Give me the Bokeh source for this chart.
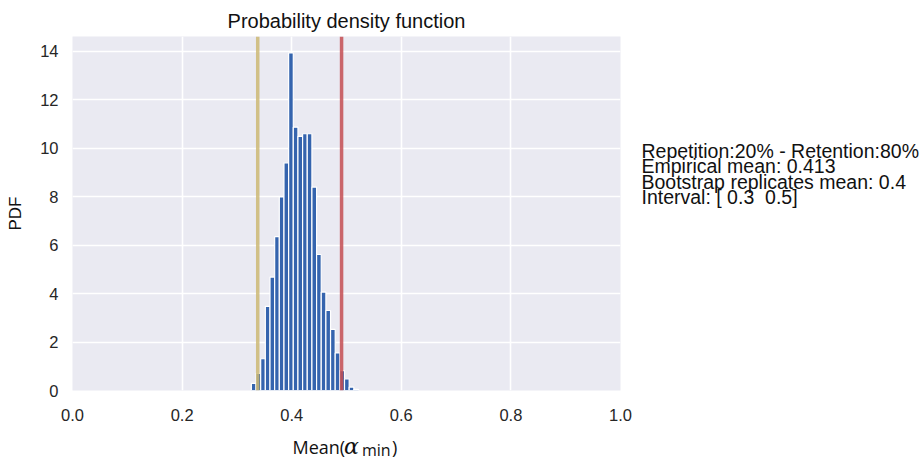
from bokeh.plotting import figure
from bokeh.layouts import row, column
from bokeh.models import Span, Label, FixedTicker
from bokeh.embed import file_html
from bokeh.resources import INLINE

# Histogram of bootstrap replicates (density-normalised)
bin_start = 0.3264
bin_width = 0.0085
density = [0.29, 0.71, 1.31, 3.47, 4.68, 6.35, 7.98, 9.39, 13.92, 10.86,
           10.48, 10.59, 10.59, 8.39, 5.61, 4.06, 3.30, 2.52, 1.55, 0.82,
           0.48, 0.14, 0.05]

# Confidence interval bounds
ci_low = 0.338
ci_high = 0.491

x_ticks = [0.0, 0.2, 0.4, 0.6, 0.8, 1.0]
y_ticks = [0, 2, 4, 6, 8, 10, 12, 14]

info_lines = [
    "Repetition:20% - Retention:80%",
    "Empirical mean: 0.413",
    "Bootstrap replicates mean: 0.4",
    "Interval: [\u00a00.3\u00a0\u00a00.5]",
]

FONT = "Liberation Sans"
TEXT = "#262626"
DARK = "#111111"

left_edges = [bin_start + i * bin_width for i in range(len(density))]
right_edges = [e + bin_width for e in left_edges]

# ---- main histogram panel ----
p = figure(width=640, height=425, x_range=(0, 1), y_range=(0, 14.6),
           output_backend="svg", toolbar_location=None,
           min_border_left=72, min_border_right=20,
           min_border_top=36, min_border_bottom=35)

p.title.text = "Probability density function"
p.title.align = "center"
p.title.text_font = FONT
p.title.text_font_size = "20px"
p.title.text_font_style = "normal"
p.title.text_color = DARK

p.background_fill_color = "#EAEAF2"
p.border_fill_color = "white"
p.outline_line_color = None

p.grid.grid_line_color = "white"
p.grid.grid_line_width = 1.6
p.xaxis.ticker = FixedTicker(ticks=x_ticks)
p.yaxis.ticker = FixedTicker(ticks=y_ticks)
p.xaxis.major_label_overrides = {t: f"{t:.1f}" for t in x_ticks}

for ax in (p.xaxis, p.yaxis):
    ax.axis_line_color = None
    ax.major_tick_line_color = None
    ax.minor_tick_line_color = None
    ax.major_tick_out = 0
    ax.major_tick_in = 0
    ax.minor_tick_out = 0
    ax.major_label_text_font = FONT
    ax.major_label_text_font_size = "16.5px"
    ax.major_label_text_color = TEXT

p.yaxis.major_label_standoff = 14
p.xaxis.major_label_standoff = 18

p.yaxis.axis_label = "PDF"
p.yaxis.axis_label_text_font = FONT
p.yaxis.axis_label_text_font_size = "17px"
p.yaxis.axis_label_text_font_style = "normal"
p.yaxis.axis_label_text_color = DARK
p.yaxis.axis_label_standoff = 12

p.quad(left=left_edges, right=right_edges, bottom=0, top=density,
       fill_color="#3564AE", line_color="white", line_width=1.2)

p.add_layout(Span(location=ci_low, dimension="height", line_color="#CCB974",
                  line_width=3.5, line_alpha=0.85))
p.add_layout(Span(location=ci_high, dimension="height", line_color="#C44E52",
                  line_width=3.5, line_alpha=0.85))


def blank_panel(w, h, **kw):
    f = figure(width=w, height=h, title=None,
               x_axis_location=None, y_axis_location=None,
               output_backend="svg", toolbar_location=None,
               min_border=0, border_fill_color="white",
               background_fill_color="white", **kw)
    f.grid.visible = False
    f.outline_line_color = None
    return f


# ---- x-axis label strip: Mean(α_min), centred under the data axis ----
xl = blank_panel(640, 34, x_range=p.x_range, y_range=(0, 34))
xl.min_border_left = 72
xl.min_border_right = 20
xl_font = "Open Sans"
mid = 0.5
base = 13
xl.add_layout(Label(x=mid, y=base, x_offset=-54, text="Mean(", text_font=xl_font,
                    text_font_size="18px", text_color=DARK,
                    text_baseline="alphabetic"))
xl.add_layout(Label(x=mid, y=base, x_offset=-2.5, text="α", text_font="DejaVu Serif",
                    text_font_style="italic", text_font_size="22px",
                    text_color=DARK, text_baseline="alphabetic"))
xl.add_layout(Label(x=mid, y=base - 3, x_offset=15.5, text="min", text_font=xl_font,
                    text_font_size="16px", text_color=DARK,
                    text_baseline="alphabetic"))
xl.add_layout(Label(x=mid, y=base, x_offset=45.5, text=")", text_font=xl_font,
                    text_font_size="18px", text_color=DARK,
                    text_baseline="alphabetic"))

# ---- summary text block on the right ----
tb = blank_panel(283, 459, x_range=(0, 283), y_range=(0, 459))
for i, line in enumerate(info_lines):
    tb.add_layout(Label(x=1, y=309 - i * 15.5, text=line, text_font=FONT,
                        text_font_size="19.5px", text_color=DARK,
                        text_baseline="alphabetic"))

layout = row(column(p, xl, spacing=0), tb, spacing=0)

open("out.html", "w").write(file_html(layout, INLINE))
